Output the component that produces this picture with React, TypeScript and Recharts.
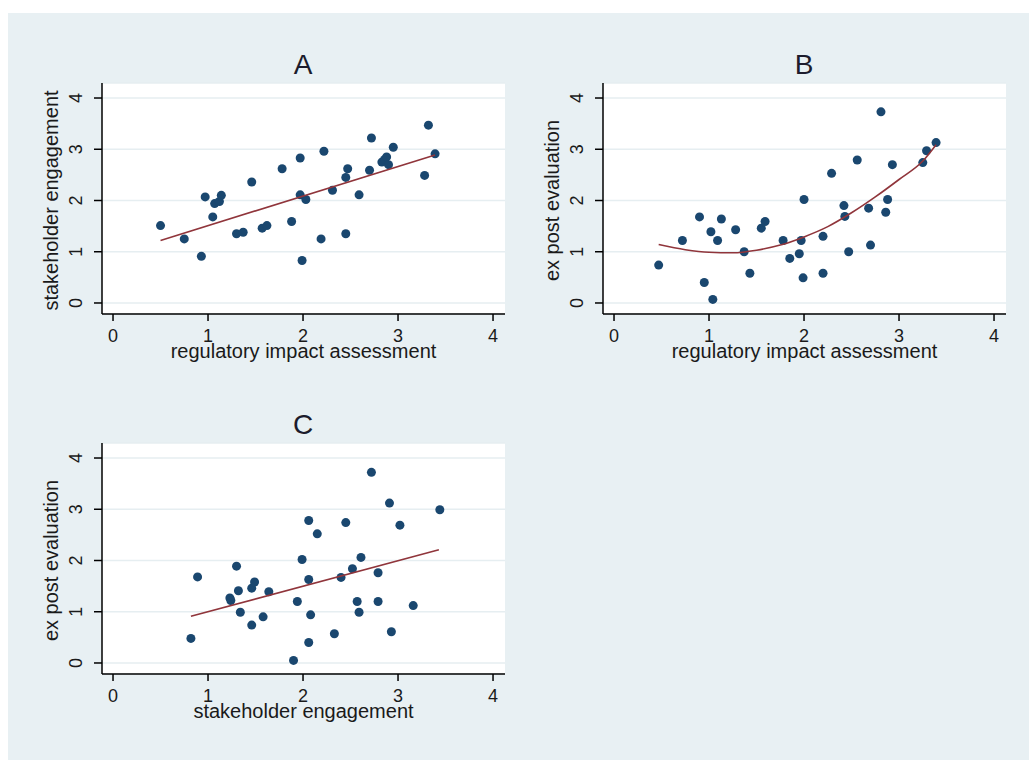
import { ScatterChart, Scatter, XAxis, YAxis, CartesianGrid, Label } from "recharts";

// Panel A: regulatory impact assessment vs stakeholder engagement
const riaA = [0.5, 0.75, 0.93, 0.97, 1.05, 1.07, 1.12, 1.14, 1.3, 1.37, 1.46, 1.57, 1.62, 1.78, 1.88, 1.97, 1.97, 1.99, 2.03, 2.19, 2.22, 2.31, 2.45, 2.45, 2.47, 2.59, 2.7, 2.72, 2.83, 2.86, 2.88, 2.9, 2.95, 3.28, 3.32, 3.39];
const seA = [1.51, 1.25, 0.91, 2.07, 1.68, 1.94, 1.98, 2.1, 1.35, 1.38, 2.36, 1.46, 1.51, 2.62, 1.59, 2.83, 2.11, 0.83, 2.02, 1.25, 2.96, 2.2, 1.35, 2.45, 2.62, 2.11, 2.59, 3.22, 2.75, 2.8, 2.85, 2.7, 3.04, 2.49, 3.47, 2.91];
const fitAx = [0.5, 3.39];
const fitAy = [1.22, 2.89];

// Panel B: regulatory impact assessment vs ex post evaluation
const riaB = [0.47, 0.72, 0.9, 0.95, 1.02, 1.04, 1.09, 1.13, 1.28, 1.37, 1.43, 1.55, 1.59, 1.78, 1.85, 1.95, 1.97, 1.99, 2.0, 2.2, 2.2, 2.29, 2.42, 2.43, 2.47, 2.56, 2.68, 2.7, 2.81, 2.86, 2.88, 2.93, 3.25, 3.29, 3.39];
const epeB = [0.74, 1.22, 1.68, 0.4, 1.39, 0.07, 1.22, 1.64, 1.43, 1.0, 0.58, 1.46, 1.59, 1.22, 0.87, 0.96, 1.22, 0.49, 2.02, 1.3, 0.58, 2.53, 1.9, 1.69, 1.0, 2.79, 1.85, 1.13, 3.73, 1.77, 2.02, 2.7, 2.74, 2.97, 3.13];
const fitBx = [0.47, 0.75, 1.0, 1.25, 1.5, 1.75, 2.0, 2.25, 2.5, 2.75, 3.0, 3.25, 3.39];
const fitBy = [1.14, 1.04, 0.99, 0.98, 1.03, 1.13, 1.29, 1.49, 1.76, 2.07, 2.41, 2.77, 3.09];

// Panel C: stakeholder engagement vs ex post evaluation
const seC = [0.82, 0.89, 1.23, 1.24, 1.3, 1.32, 1.34, 1.46, 1.49, 1.46, 1.58, 1.64, 1.9, 1.94, 1.99, 2.06, 2.06, 2.06, 2.08, 2.15, 2.33, 2.4, 2.45, 2.52, 2.57, 2.59, 2.61, 2.72, 2.79, 2.79, 2.91, 2.93, 3.02, 3.16, 3.44];
const epeC = [0.48, 1.68, 1.27, 1.22, 1.89, 1.41, 0.99, 1.46, 1.58, 0.74, 0.9, 1.39, 0.05, 1.2, 2.02, 2.78, 1.63, 0.4, 0.94, 2.52, 0.57, 1.67, 2.74, 1.84, 1.2, 0.99, 2.06, 3.72, 1.76, 1.2, 3.12, 0.61, 2.69, 1.12, 2.99];
const fitCx = [0.82, 3.43];
const fitCy = [0.91, 2.21];

const axisTicks = [0, 1, 2, 3, 4];

const FONT = "'Liberation Sans', Arial, sans-serif";
const TEXT = "#1a1a1a";
const NAVY = "#1a476f";
const MAROON = "#90353b";

const zip = (xs: number[], ys: number[]) => xs.map((x, i) => ({ x, y: ys[i] }));

const XTick = ({ x, y, payload }: any) => (
  <text x={x} y={y + 19} textAnchor="middle" fontSize={18} fontFamily={FONT} fill={TEXT}>
    {payload.value}
  </text>
);

const YTick = ({ x, y, payload }: any) => (
  <text
    x={x - 10}
    y={y}
    transform={`rotate(-90, ${x - 10}, ${y})`}
    textAnchor="middle"
    fontSize={18}
    fontFamily={FONT}
    fill={TEXT}
  >
    {payload.value}
  </text>
);

const Dot = (props: any) => <circle cx={props.cx} cy={props.cy} r={4.5} fill={NAVY} />;
const NoDot = () => <g />;

interface PanelProps {
  title: string;
  points: { x: number; y: number }[];
  fit: { x: number; y: number }[];
  curved?: boolean;
  xTitle: string;
  yTitle: string;
  left: number;
  top: number;
}

function Panel({ title, points, fit, curved, xTitle, yTitle, left, top }: PanelProps) {
  return (
    <>
      <div
        style={{
          position: "absolute",
          left: left + 213,
          top: top + 1,
          width: 100,
          textAlign: "center",
          fontFamily: FONT,
          fontSize: 28,
          lineHeight: "28px",
          color: "#1c1c2c",
        }}
      >
        {title}
      </div>
      <div style={{ position: "absolute", left, top }}>
        <ScatterChart width={495} height={324} margin={{ top: 33, right: 30, bottom: 0, left: 0 }}>
          <CartesianGrid vertical={false} fill="#ffffff" stroke="#e6eef1" strokeWidth={1.5} />
          <XAxis
            type="number"
            dataKey="x"
            domain={[-0.116, 4.126]}
            ticks={axisTicks}
            allowDataOverflow
            height={60}
            tickSize={7}
            tick={<XTick />}
            axisLine={{ stroke: "#000", strokeWidth: 1.5 }}
            tickLine={{ stroke: "#000", strokeWidth: 1.5 }}
          >
            <Label
              content={({ viewBox }: any) => (
                <text
                  x={viewBox.x + viewBox.width / 2}
                  y={viewBox.y + 44}
                  textAnchor="middle"
                  fontSize={20}
                  fontFamily={FONT}
                  fill={TEXT}
                >
                  {xTitle}
                </text>
              )}
            />
          </XAxis>
          <YAxis
            type="number"
            dataKey="y"
            domain={[-0.215, 4.293]}
            ticks={axisTicks}
            allowDataOverflow
            width={62}
            tickSize={8}
            tick={<YTick />}
            axisLine={{ stroke: "#000", strokeWidth: 1.5 }}
            tickLine={{ stroke: "#000", strokeWidth: 1.5 }}
          >
            <Label
              content={({ viewBox }: any) => {
                const cx = viewBox.x + 18;
                const cy = viewBox.y + viewBox.height / 2 + 2;
                return (
                  <text
                    x={cx}
                    y={cy}
                    transform={`rotate(-90, ${cx}, ${cy})`}
                    textAnchor="middle"
                    fontSize={20}
                    fontFamily={FONT}
                    fill={TEXT}
                  >
                    {yTitle}
                  </text>
                );
              }}
            />
          </YAxis>
          <Scatter data={points} shape={Dot} isAnimationActive={false} />
          <Scatter
            data={fit}
            shape={NoDot}
            line={{ stroke: MAROON, strokeWidth: 1.6 }}
            lineJointType={curved ? "monotoneX" : "linear"}
            isAnimationActive={false}
          />
        </ScatterChart>
      </div>
    </>
  );
}

export default function App() {
  return (
    <div style={{ position: "absolute", left: 0, top: 0, width: 1029, height: 760 }}>
      <div
        style={{ position: "absolute", left: 8, top: 13, width: 1021, height: 747, background: "#e8f0f3" }}
      />
      <Panel
        title="A"
        points={zip(riaA, seA)}
        fit={zip(fitAx, fitAy)}
        xTitle="regulatory impact assessment"
        yTitle="stakeholder engagement"
        left={40}
        top={50}
      />
      <Panel
        title="B"
        points={zip(riaB, epeB)}
        fit={zip(fitBx, fitBy)}
        curved
        xTitle="regulatory impact assessment"
        yTitle="ex post evaluation"
        left={541}
        top={50}
      />
      <Panel
        title="C"
        points={zip(seC, epeC)}
        fit={zip(fitCx, fitCy)}
        xTitle="stakeholder engagement"
        yTitle="ex post evaluation"
        left={40}
        top={410}
      />
    </div>
  );
}
